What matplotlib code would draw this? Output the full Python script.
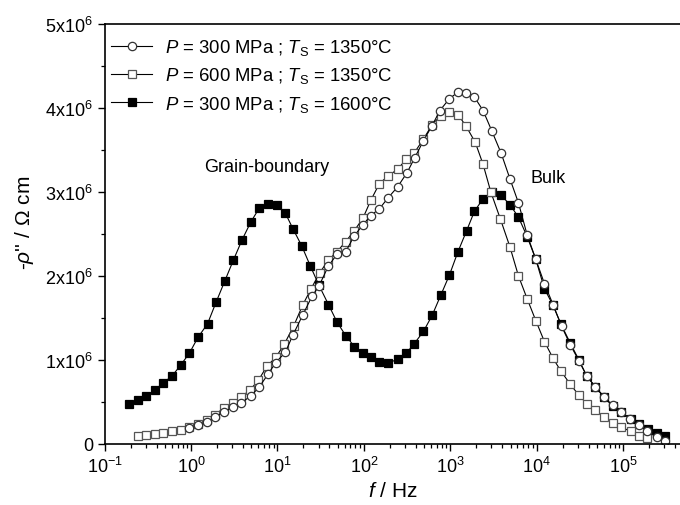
import numpy as np
import matplotlib
matplotlib.use("Agg")
import matplotlib.pyplot as plt
from matplotlib.ticker import FuncFormatter, MultipleLocator, LogLocator

plt.rcParams['font.family'] = ['Liberation Sans', 'DejaVu Sans']
plt.rcParams['mathtext.fontset'] = 'custom'
plt.rcParams['mathtext.rm'] = 'Liberation Sans'
plt.rcParams['mathtext.it'] = 'Liberation Sans:italic'
plt.rcParams['mathtext.bf'] = 'Liberation Sans:bold'

# P = 300 MPa ; Ts = 1350 C  (open circles)
logf_a = [-0.02, 0.08, 0.18, 0.28, 0.38, 0.49, 0.58, 0.69, 0.79, 0.89, 0.98,
          1.09, 1.18, 1.29, 1.40, 1.48, 1.59, 1.69, 1.79, 1.89, 1.99,
          2.08, 2.18, 2.28, 2.39, 2.50, 2.59, 2.69, 2.79, 2.88, 2.99,
          3.09, 3.18, 3.28, 3.38, 3.48, 3.59, 3.69, 3.79, 3.89, 3.99,
          4.09, 4.19, 4.29, 4.39, 4.49, 4.58, 4.68, 4.78, 4.88, 4.98,
          5.08, 5.18, 5.28, 5.39, 5.49]
rho_a = [0.19, 0.22, 0.26, 0.32, 0.38, 0.44, 0.49, 0.57, 0.68, 0.83, 0.97,
         1.09, 1.30, 1.53, 1.76, 1.88, 2.12, 2.26, 2.29, 2.48, 2.61,
         2.72, 2.80, 2.93, 3.06, 3.23, 3.41, 3.61, 3.79, 3.97, 4.11,
         4.19, 4.18, 4.13, 3.97, 3.73, 3.46, 3.16, 2.87, 2.49, 2.20,
         1.91, 1.66, 1.40, 1.18, 0.99, 0.81, 0.68, 0.56, 0.46, 0.38,
         0.30, 0.23, 0.15, 0.08, 0.03]

# P = 600 MPa ; Ts = 1350 C  (open squares)
logf_b = [-0.62, -0.52, -0.42, -0.32, -0.22, -0.12, -0.02, 0.08, 0.18, 0.28,
          0.38, 0.48, 0.58, 0.68, 0.78, 0.88, 0.98, 1.08, 1.19, 1.29,
          1.39, 1.49, 1.59, 1.69, 1.79, 1.89, 1.99, 2.08, 2.18, 2.28,
          2.39, 2.49, 2.58, 2.69, 2.79, 2.89, 2.99, 3.09, 3.18, 3.29,
          3.38, 3.47, 3.58, 3.69, 3.79, 3.89, 3.99, 4.09, 4.19, 4.28,
          4.39, 4.49, 4.58, 4.68, 4.78, 4.88, 4.98, 5.09, 5.19, 5.28]
rho_b = [0.10, 0.11, 0.12, 0.13, 0.15, 0.17, 0.20, 0.24, 0.29, 0.35,
         0.43, 0.49, 0.56, 0.64, 0.76, 0.93, 1.03, 1.19, 1.41, 1.65,
         1.85, 2.04, 2.19, 2.29, 2.41, 2.54, 2.69, 2.90, 3.10, 3.19,
         3.27, 3.39, 3.46, 3.63, 3.80, 3.91, 3.95, 3.92, 3.79, 3.59,
         3.33, 3.00, 2.68, 2.35, 2.00, 1.73, 1.47, 1.22, 1.02, 0.87,
         0.71, 0.58, 0.48, 0.40, 0.32, 0.25, 0.20, 0.15, 0.10, 0.07]

# P = 300 MPa ; Ts = 1600 C  (filled squares)
logf_c = [-0.72, -0.61, -0.52, -0.42, -0.32, -0.22, -0.12, -0.02, 0.08, 0.19,
          0.29, 0.39, 0.49, 0.59, 0.69, 0.79, 0.89, 0.99, 1.09, 1.18,
          1.28, 1.38, 1.48, 1.59, 1.69, 1.79, 1.89, 1.99, 2.08, 2.18,
          2.28, 2.39, 2.49, 2.58, 2.69, 2.79, 2.89, 2.99, 3.09, 3.19,
          3.28, 3.38, 3.48, 3.59, 3.69, 3.79, 3.89, 3.99, 4.09, 4.19,
          4.28, 4.39, 4.49, 4.58, 4.68, 4.78, 4.88, 4.98, 5.09, 5.19,
          5.29, 5.39, 5.49]
rho_c = [0.47, 0.52, 0.57, 0.64, 0.73, 0.81, 0.94, 1.08, 1.27, 1.43,
         1.69, 1.94, 2.19, 2.43, 2.64, 2.81, 2.86, 2.85, 2.75, 2.56,
         2.36, 2.12, 1.89, 1.66, 1.45, 1.29, 1.16, 1.08, 1.03, 0.98,
         0.96, 1.01, 1.08, 1.19, 1.34, 1.53, 1.77, 2.01, 2.29, 2.54,
         2.77, 2.92, 3.00, 2.96, 2.85, 2.70, 2.47, 2.20, 1.85, 1.65,
         1.43, 1.20, 1.00, 0.81, 0.68, 0.56, 0.45, 0.38, 0.30, 0.24,
         0.18, 0.13, 0.09]

labels = [r"$P$ = 300 MPa ; $T_\mathrm{S}$ = 1350°C",
          r"$P$ = 600 MPa ; $T_\mathrm{S}$ = 1350°C",
          r"$P$ = 300 MPa ; $T_\mathrm{S}$ = 1600°C"]

fig = plt.figure(figsize=(6.8, 5.06), dpi=100)
ax = fig.add_axes([0.154, 0.1206, 0.846, 0.83])

common = dict(color='black', lw=0.8, mew=0.9)
h_c, = ax.plot(10 ** np.array(logf_c), np.array(rho_c) * 1e6, marker='s', ms=5.6,
               mfc='black', mec='black', **common)
h_b, = ax.plot(10 ** np.array(logf_b), np.array(rho_b) * 1e6, marker='s', ms=5.6,
               mfc='white', mec='#555555', **common)
h_a, = ax.plot(10 ** np.array(logf_a), np.array(rho_a) * 1e6, marker='o', ms=6.0,
               mfc='white', mec='#333333', **common)

ax.set_xscale('log')
ax.set_xlim(0.1, 4.57e5)
ax.set_ylim(0, 5e6)

ax.yaxis.set_major_locator(MultipleLocator(1e6))
ax.yaxis.set_minor_locator(MultipleLocator(0.5e6))
ax.yaxis.set_major_formatter(FuncFormatter(
    lambda v, p: "0" if v == 0 else r"$\mathregular{%dx10^{6}}$" % round(v / 1e6)))
ax.xaxis.set_major_locator(LogLocator(base=10, numticks=20))
ax.xaxis.set_minor_locator(LogLocator(base=10, subs=np.arange(2, 10), numticks=20))

ax.tick_params(which='major', direction='out', length=5, width=1.0, labelsize=13)
ax.tick_params(which='minor', direction='out', length=3, width=0.9)
ax.spines['right'].set_visible(False)
for s in ['left', 'bottom', 'top']:
    ax.spines[s].set_linewidth(1.2)

ax.set_xlabel(r"$f$ / Hz", fontsize=15, labelpad=4)
ax.set_ylabel(r"-$\rho$'' / Ω cm", fontsize=15, labelpad=4)
ax.yaxis.set_label_coords(-0.12, 0.53)

ax.text(40, 3.30e6, "Grain-boundary", fontsize=13, ha='right', va='center')
ax.text(8.4e3, 3.17e6, "Bulk", fontsize=13, ha='left', va='center')

ax.legend([h_a, h_b, h_c], labels, loc='upper left', frameon=False,
          fontsize=13.3, handlelength=2.2, handletextpad=0.7, labelspacing=0.45,
          borderaxespad=0.0, borderpad=0.3, bbox_to_anchor=(0.002, 0.982))

fig.savefig("out.png", dpi=100)
